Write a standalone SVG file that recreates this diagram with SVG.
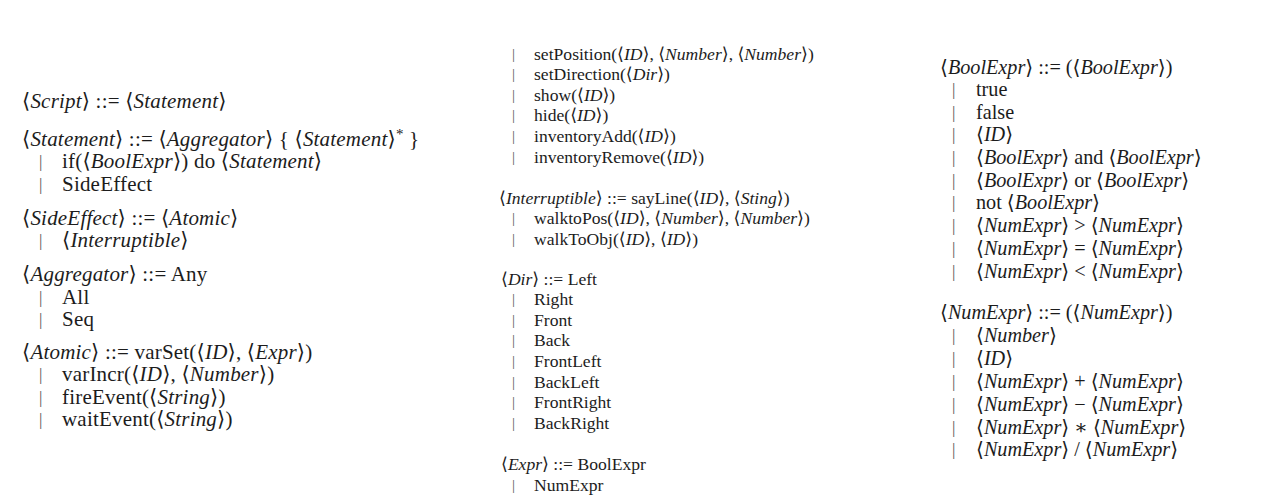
<svg xmlns="http://www.w3.org/2000/svg" width="1264" height="499" viewBox="0 0 1264 499">
<style>
text{font-family:"Liberation Serif","DejaVu Serif",serif;fill:#1c1c1c}
.i{font-style:italic;font-family:"Liberation Serif","DejaVu Serif",serif}
.c1{font-size:21px;letter-spacing:0.2px}
.c2{font-size:17.6px}
.c3{font-size:20.2px}
.b{fill:#555555}
.c1 .b{font-size:17px}
.c2 .b{font-size:15px}
.c3 .b{font-size:17px}
</style>
<rect width="1264" height="499" fill="#ffffff"/>
<g id="col1" class="c1">
<g id="script"><text x="22" y="108">⟨<tspan class="i">Script</tspan>⟩ ::= ⟨<tspan class="i">Statement</tspan>⟩</text></g>
<g id="statement">
<text x="22" y="145.5">⟨<tspan class="i">Statement</tspan>⟩ ::= ⟨<tspan class="i">Aggregator</tspan>⟩ { ⟨<tspan class="i">Statement</tspan>⟩<tspan dy="-7" font-size="15">*</tspan><tspan dy="7"> }</tspan></text>
<text class="b" x="39" y="167">|</text><text x="62" y="168">if(⟨<tspan class="i">BoolExpr</tspan>⟩) do ⟨<tspan class="i">Statement</tspan>⟩</text>
<text class="b" x="39" y="189.5">|</text><text x="62" y="190.5">SideEffect</text>
</g>
<g id="sideeffect">
<text x="22" y="224.5">⟨<tspan class="i">SideEffect</tspan>⟩ ::= ⟨<tspan class="i">Atomic</tspan>⟩</text>
<text class="b" x="39" y="246">|</text><text x="62" y="247">⟨<tspan class="i">Interruptible</tspan>⟩</text>
</g>
<g id="aggregator">
<text x="22" y="281">⟨<tspan class="i">Aggregator</tspan>⟩ ::= Any</text>
<text class="b" x="39" y="302.5">|</text><text x="62" y="303.5">All</text>
<text class="b" x="39" y="325">|</text><text x="62" y="326">Seq</text>
</g>
<g id="atomic">
<text x="22" y="358.5">⟨<tspan class="i">Atomic</tspan>⟩ ::= varSet(⟨<tspan class="i">ID</tspan>⟩, ⟨<tspan class="i">Expr</tspan>⟩)</text>
<text class="b" x="39" y="380">|</text><text x="62" y="381">varIncr(⟨<tspan class="i">ID</tspan>⟩, ⟨<tspan class="i">Number</tspan>⟩)</text>
<text class="b" x="39" y="402.5">|</text><text x="62" y="403.5">fireEvent(⟨<tspan class="i">String</tspan>⟩)</text>
<text class="b" x="39" y="425">|</text><text x="62" y="426">waitEvent(⟨<tspan class="i">String</tspan>⟩)</text>
</g>
</g>
<g id="col2" class="c2">
<g id="atomic-cont">
<text class="b" x="512" y="59">|</text><text x="534" y="60">setPosition(⟨<tspan class="i">ID</tspan>⟩, ⟨<tspan class="i">Number</tspan>⟩, ⟨<tspan class="i">Number</tspan>⟩)</text>
<text class="b" x="512" y="79">|</text><text x="534" y="80">setDirection(⟨<tspan class="i">Dir</tspan>⟩)</text>
<text class="b" x="512" y="100">|</text><text x="534" y="101">show(⟨<tspan class="i">ID</tspan>⟩)</text>
<text class="b" x="512" y="120">|</text><text x="534" y="121">hide(⟨<tspan class="i">ID</tspan>⟩)</text>
<text class="b" x="512" y="141">|</text><text x="534" y="142">inventoryAdd(⟨<tspan class="i">ID</tspan>⟩)</text>
<text class="b" x="512" y="162">|</text><text x="534" y="163">inventoryRemove(⟨<tspan class="i">ID</tspan>⟩)</text>
</g>
<g id="interruptible">
<text x="499" y="204">⟨<tspan class="i">Interruptible</tspan>⟩ ::= sayLine(⟨<tspan class="i">ID</tspan>⟩, ⟨<tspan class="i">Sting</tspan>⟩)</text>
<text class="b" x="512" y="223">|</text><text x="534" y="224">walktoPos(⟨<tspan class="i">ID</tspan>⟩, ⟨<tspan class="i">Number</tspan>⟩, ⟨<tspan class="i">Number</tspan>⟩)</text>
<text class="b" x="512" y="244">|</text><text x="534" y="245">walkToObj(⟨<tspan class="i">ID</tspan>⟩, ⟨<tspan class="i">ID</tspan>⟩)</text>
</g>
<g id="dir">
<text x="501" y="285">⟨<tspan class="i">Dir</tspan>⟩ ::= Left</text>
<text class="b" x="512" y="304">|</text><text x="534" y="305">Right</text>
<text class="b" x="512" y="325">|</text><text x="534" y="326">Front</text>
<text class="b" x="512" y="345">|</text><text x="534" y="346">Back</text>
<text class="b" x="512" y="366">|</text><text x="534" y="367">FrontLeft</text>
<text class="b" x="512" y="387">|</text><text x="534" y="388">BackLeft</text>
<text class="b" x="512" y="407">|</text><text x="534" y="408">FrontRight</text>
<text class="b" x="512" y="428">|</text><text x="534" y="429">BackRight</text>
</g>
<g id="expr">
<text x="501" y="470">⟨<tspan class="i">Expr</tspan>⟩ ::= BoolExpr</text>
<text class="b" x="512" y="490">|</text><text x="534" y="491">NumExpr</text>
</g>
</g>
<g id="col3" class="c3">
<g id="boolexpr">
<text x="940" y="74">⟨<tspan class="i">BoolExpr</tspan>⟩ ::= (⟨<tspan class="i">BoolExpr</tspan>⟩)</text>
<text class="b" x="952" y="95">|</text><text x="976" y="96">true</text>
<text class="b" x="952" y="118">|</text><text x="976" y="119">false</text>
<text class="b" x="952" y="140">|</text><text x="976" y="141">⟨<tspan class="i">ID</tspan>⟩</text>
<text class="b" x="952" y="163">|</text><text x="976" y="164">⟨<tspan class="i">BoolExpr</tspan>⟩ and ⟨<tspan class="i">BoolExpr</tspan>⟩</text>
<text class="b" x="952" y="186">|</text><text x="976" y="187">⟨<tspan class="i">BoolExpr</tspan>⟩ or ⟨<tspan class="i">BoolExpr</tspan>⟩</text>
<text class="b" x="952" y="208">|</text><text x="976" y="209">not ⟨<tspan class="i">BoolExpr</tspan>⟩</text>
<text class="b" x="952" y="231">|</text><text x="976" y="232">⟨<tspan class="i">NumExpr</tspan>⟩ &gt; ⟨<tspan class="i">NumExpr</tspan>⟩</text>
<text class="b" x="952" y="254">|</text><text x="976" y="255">⟨<tspan class="i">NumExpr</tspan>⟩ = ⟨<tspan class="i">NumExpr</tspan>⟩</text>
<text class="b" x="952" y="277">|</text><text x="976" y="278">⟨<tspan class="i">NumExpr</tspan>⟩ &lt; ⟨<tspan class="i">NumExpr</tspan>⟩</text>
</g>
<g id="numexpr">
<text x="940" y="319">⟨<tspan class="i">NumExpr</tspan>⟩ ::= (⟨<tspan class="i">NumExpr</tspan>⟩)</text>
<text class="b" x="952" y="341">|</text><text x="976" y="342">⟨<tspan class="i">Number</tspan>⟩</text>
<text class="b" x="952" y="364">|</text><text x="976" y="365">⟨<tspan class="i">ID</tspan>⟩</text>
<text class="b" x="952" y="387">|</text><text x="976" y="388">⟨<tspan class="i">NumExpr</tspan>⟩ + ⟨<tspan class="i">NumExpr</tspan>⟩</text>
<text class="b" x="952" y="410">|</text><text x="976" y="411">⟨<tspan class="i">NumExpr</tspan>⟩ − ⟨<tspan class="i">NumExpr</tspan>⟩</text>
<text class="b" x="952" y="433">|</text><text x="976" y="434">⟨<tspan class="i">NumExpr</tspan>⟩ ∗ ⟨<tspan class="i">NumExpr</tspan>⟩</text>
<text class="b" x="952" y="455">|</text><text x="976" y="456">⟨<tspan class="i">NumExpr</tspan>⟩ / ⟨<tspan class="i">NumExpr</tspan>⟩</text>
</g>
</g>
<g id="connectors"/>
</svg>
